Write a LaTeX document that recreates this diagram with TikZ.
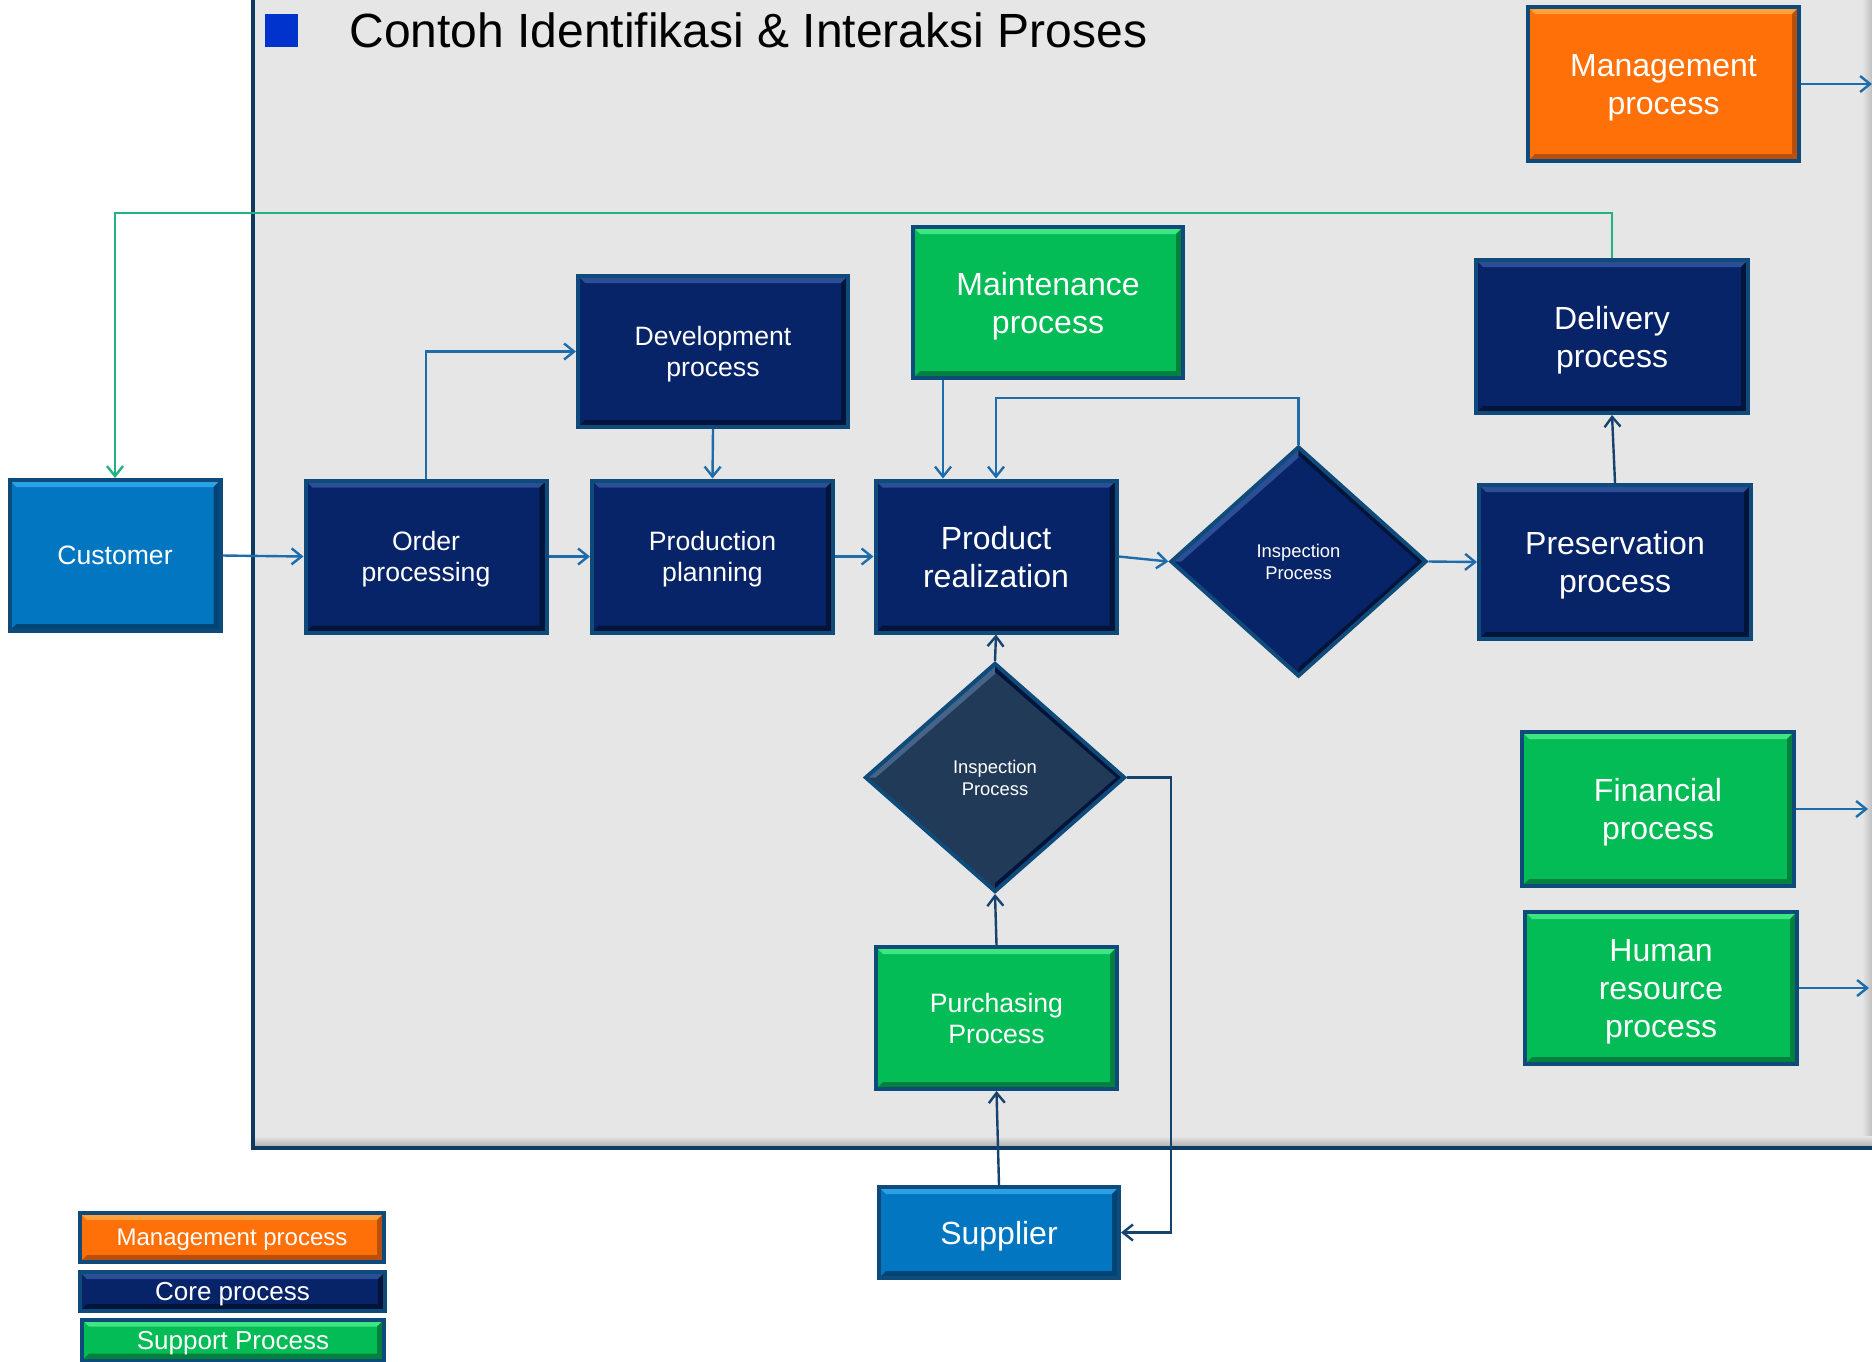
\documentclass[tikz,border=0pt]{standalone}
\usepackage{fontspec}
\setmainfont{Liberation Sans}
\usetikzlibrary{arrows.meta,shapes.geometric}

\definecolor{panelgray}{RGB}{230,230,230}
\definecolor{paneledge}{RGB}{14,58,98}
\definecolor{boxedge}{RGB}{14,74,122}
\definecolor{navyfill}{RGB}{8,36,104}
\definecolor{navytop}{RGB}{44,78,150}
\definecolor{navydark}{RGB}{3,20,58}
\definecolor{skyfill}{RGB}{2,118,192}
\definecolor{skytop}{RGB}{42,160,230}
\definecolor{skydark}{RGB}{1,68,118}
\definecolor{orangefill}{RGB}{255,112,8}
\definecolor{orangetop}{RGB}{255,160,58}
\definecolor{orangedark}{RGB}{186,78,12}
\definecolor{greenfill}{RGB}{4,188,86}
\definecolor{greentop}{RGB}{62,230,130}
\definecolor{greendark}{RGB}{3,128,62}
\definecolor{slatefill}{RGB}{32,58,88}
\definecolor{slatetop}{RGB}{70,100,135}
\definecolor{connblue}{RGB}{31,108,170}
\definecolor{conndark}{RGB}{22,66,110}
\definecolor{connteal}{RGB}{34,178,128}
\definecolor{titleblue}{RGB}{0,51,204}

\tikzset{
  % rectangular process box with a bevelled edge: fill, light rim, dark rim
  bevelbox/.style n args={3}{rectangle, fill=#1, draw=boxedge, line width=2pt,
    text=white, align=center, inner sep=0pt, text depth=0pt,
    path picture={
      \fill[#2] (path picture bounding box.north west) -- (path picture bounding box.north east)
        -- ([shift={(-3.5pt,-3.5pt)}]path picture bounding box.north east)
        -- ([shift={(3.5pt,-3.5pt)}]path picture bounding box.north west) -- cycle;
      \fill[#3] (path picture bounding box.north east) -- (path picture bounding box.south east)
        -- ([shift={(-3.5pt,3.5pt)}]path picture bounding box.south east)
        -- ([shift={(-3.5pt,-3.5pt)}]path picture bounding box.north east) -- cycle;
      \fill[#3] (path picture bounding box.south east) -- (path picture bounding box.south west)
        -- ([shift={(3.5pt,3.5pt)}]path picture bounding box.south west)
        -- ([shift={(-3.5pt,3.5pt)}]path picture bounding box.south east) -- cycle;
    }},
  % diamond decision box with a light upper-left rim and a dark lower-right rim
  bevelgem/.style n args={3}{diamond, fill=#1, draw=boxedge, line width=2pt,
    text=white, align=center, inner sep=0pt,
    path picture={
      \fill[#2] (path picture bounding box.west) -- (path picture bounding box.north)
        -- ([shift={(0pt,-5pt)}]path picture bounding box.north)
        -- ([shift={(5pt,0pt)}]path picture bounding box.west) -- cycle;
      \fill[#3] (path picture bounding box.north) -- (path picture bounding box.east)
        -- (path picture bounding box.south)
        -- ([shift={(0pt,4pt)}]path picture bounding box.south)
        -- ([shift={(-4pt,0pt)}]path picture bounding box.east)
        -- ([shift={(0pt,-4pt)}]path picture bounding box.north) -- cycle;
    }},
  coreproc/.style={bevelbox={navyfill}{navytop}{navydark}},
  suppproc/.style={bevelbox={greenfill}{greentop}{greendark}},
  mgmtproc/.style={bevelbox={orangefill}{orangetop}{orangedark}},
  outside/.style={bevelbox={skyfill}{skytop}{skydark}},
  bigtext/.style={font=\fontsize{16pt}{19pt}\selectfont},
  midtext/.style={font=\fontsize{13.3pt}{15.5pt}\selectfont},
  smalltext/.style={font=\fontsize{9.2pt}{11pt}\selectfont},
  conn/.style={draw=connblue, line width=1.2pt,
    -{Straight Barb[length=5pt,width=8pt,line width=1.2pt]}},
  conndk/.style={conn, draw=conndark},
  connfb/.style={conn, draw=connteal, line width=1.3pt},
}

\begin{document}
\begin{tikzpicture}[x=0.5pt, y=-0.5pt]
\useasboundingbox (0,0) rectangle (1872,1361);
\fill[white] (0,0) rectangle (1872,1361);

% grey frame of the organisation
\fill[panelgray] (253,-10) rectangle (1872,1148);
\shade[left color=panelgray, right color=black!25] (1862,-10) rectangle (1872,1146);
\shade[top color=panelgray, bottom color=black!30] (255,1136) rectangle (1872,1146);
\draw[paneledge, line width=2pt] (253,-10) -- (253,1148) -- (1872,1148);

% heading
\fill[titleblue] (265,14) rectangle (298,47);
\node[anchor=base west, font=\fontsize{24pt}{28pt}\selectfont, inner sep=0pt] (title)
  at (349,47) {Contoh Identifikasi \& Interaksi Proses};

% process boxes
\node[mgmtproc, bigtext, minimum width=135.5pt, minimum height=77pt] (mgmt) at (1663.5,84) {Management\\process};
\node[outside, midtext, minimum width=105.5pt, minimum height=75.5pt] (cust) at (115,555.5) {Customer};
\node[coreproc, midtext, minimum width=120.5pt, minimum height=76pt] (order) at (426,556.5) {Order\\processing};
\node[coreproc, midtext, minimum width=120.5pt, minimum height=76pt] (plan) at (712.5,556.5) {Production\\planning};
\node[coreproc, midtext, minimum width=135pt, minimum height=75.5pt] (dev) at (713,351.5) {Development\\process};
\node[coreproc, bigtext, minimum width=120.5pt, minimum height=76pt] (real) at (996,556.5) {Product\\realization};
\node[suppproc, bigtext, minimum width=135pt, minimum height=75.5pt] (maint) at (1048,302.5) {Maintenance\\process};
\node[coreproc, bigtext, minimum width=136pt, minimum height=76.5pt] (deliv) at (1612,336.5) {Delivery\\process};
\node[coreproc, bigtext, minimum width=136pt, minimum height=77pt] (pres) at (1615,562) {Preservation\\process};
\node[bevelgem={navyfill}{navytop}{navydark}, smalltext, minimum width=128pt, minimum height=115pt] (insp1) at (1298.5,561.5) {Inspection\\Process};
\node[bevelgem={slatefill}{slatetop}{navydark}, smalltext, minimum width=130pt, minimum height=114.5pt] (insp2) at (995,777.5) {Inspection\\Process};
\node[suppproc, midtext, minimum width=120.5pt, minimum height=71pt] (purch) at (996.5,1018) {Purchasing\\Process};
\node[outside, bigtext, minimum width=120pt, minimum height=45.5pt] (supp) at (999,1232.5) {Supplier};
\node[suppproc, bigtext, minimum width=136pt, minimum height=77pt] (fin) at (1658,809) {Financial\\process};
\node[suppproc, bigtext, minimum width=136pt, minimum height=76pt] (hr) at (1661,988) {Human\\resource\\process};

% legend
\node[mgmtproc, font=\fontsize{12pt}{14pt}\selectfont, minimum width=152pt, minimum height=24.5pt] (legm) at (232,1237.5) {Management process};
\node[coreproc, font=\fontsize{13pt}{15pt}\selectfont, minimum width=152.5pt, minimum height=19.5pt] (legc) at (232.5,1291.5) {Core process};
\node[suppproc, font=\fontsize{13pt}{15pt}\selectfont, minimum width=151pt, minimum height=20.5pt] (legs) at (233,1340) {Support Process};

% outputs leaving the frame
\coordinate (mgmtout) at (1872,84);
\coordinate (finout) at (1868,809);
\coordinate (hrout) at (1869,988);

% main flow
\draw[conn] (cust.east) -- (order.west);
\draw[conn] (order.east) -- (plan.west);
\draw[conn] (plan.east) -- (real.west);
\draw[conn] (order.north) |- (dev.west);
\draw[conn] (dev.south) -- (plan.north);
\draw[conn] ([xshift=-52.5pt]maint.south) -- ([xshift=-52.5pt]maint.south |- real.north);
\draw[conn] (real.east) -- (insp1.west);
\draw[conn] (insp1.north) -- ++(0,-46.5) -| (real.north);
\draw[conn] (insp1.east) -- (pres.west);
\draw[conndk] (pres.north) -- (deliv.south);
\draw[connfb] (deliv.north) -- ++(0,-45) -| (cust.north);

% purchasing chain
\draw[conndk] (insp2.north) -- (real.south);
\draw[conndk] (purch.north) -- (insp2.south);
\draw[conndk] (supp.north) -- (purch.south);
\draw[conndk] (insp2.east) -- ++(44,0) |- (supp.east);

% support and management outputs
\draw[conn] (mgmt.east) -- (mgmtout);
\draw[conn] (fin.east) -- (finout);
\draw[conn] (hr.east) -- (hrout);
\end{tikzpicture}
\end{document}
